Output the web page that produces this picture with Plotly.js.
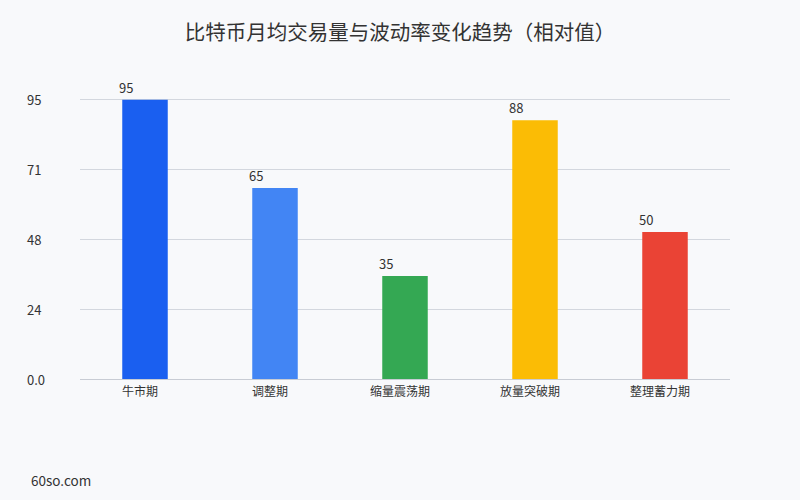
<!DOCTYPE html>
<html>
<head>
<meta charset="utf-8">
<script src="https://cdn.plot.ly/plotly-3.0.1.min.js"></script>
<style>html,body{margin:0;padding:0;background:#f8f9fb;}#chart{width:800px;height:500px;}</style>
</head>
<body>
<div id="chart"></div>
<script>
const categories = ['牛市期', '调整期', '缩量震荡期', '放量突破期', '整理蓄力期'];
const values = [95, 65, 35, 88, 50];
const barColors = ['#1a5ff0', '#4285f4', '#34a853', '#fbbc05', '#ea4335'];
const yTickVals = [0, 23.75, 47.5, 71.25, 95];
const yTickText = ['0.0', '24', '48', '71', '95'];

const font = '"Noto Sans CJK SC", "Noto Sans", sans-serif';

const trace = {
  type: 'bar',
  x: categories,
  y: values,
  marker: {color: barColors},
  width: 0.35,
  cliponaxis: false,
  hoverinfo: 'none'
};

const annotations = yTickVals.map((v, i) => ({
  xref: 'paper', yref: 'y', x: -0.0846, y: v,
  xanchor: 'left', yanchor: 'middle',
  text: yTickText[i], showarrow: false,
  font: {family: font, size: 13, color: '#333333'}
}));
categories.forEach((c, i) => {
  annotations.push({
    xref: 'x', yref: 'y', x: c, y: values[i],
    xanchor: 'center', yanchor: 'bottom', xshift: -19, yshift: 1,
    text: String(values[i]), showarrow: false,
    font: {family: font, size: 13, color: '#333333'}
  });
});
annotations.push({
  xref: 'paper', yref: 'paper', x: -0.078, y: -0.345,
  xanchor: 'left', yanchor: 'middle',
  text: '60so.com', showarrow: false,
  font: {family: font, size: 13.5, color: '#333333'}
});

const layout = {
  width: 800, height: 500,
  paper_bgcolor: '#f8f9fb',
  plot_bgcolor: '#f8f9fb',
  margin: {l: 80, r: 70, t: 85, b: 121},
  title: {text: '比特币月均交易量与波动率变化趋势（相对值）', x: 0.5, xanchor: 'center', y: 0.935, yanchor: 'middle',
          font: {family: font, size: 20.5, color: '#333333'}},
  xaxis: {
    type: 'category',
    tickfont: {family: font, size: 12, color: '#333333'},
    ticklabelshift: -5,
    ticklabelstandoff: 2,
    showgrid: false, showline: true, linecolor: '#c8ccd4', linewidth: 1,
    ticks: '', fixedrange: true
  },
  yaxis: {
    range: [0, 100],
    tickvals: yTickVals, ticktext: yTickText,
    showticklabels: false,
    showgrid: true, gridcolor: '#d3d7de', gridwidth: 1,
    zeroline: false, showline: false, ticks: '', fixedrange: true
  },
  bargap: 0.65,
  showlegend: false,
  annotations: annotations,
  font: {family: font}
};

Plotly.newPlot('chart', [trace], layout, {displayModeBar: false, staticPlot: true});
</script>
</body>
</html>
